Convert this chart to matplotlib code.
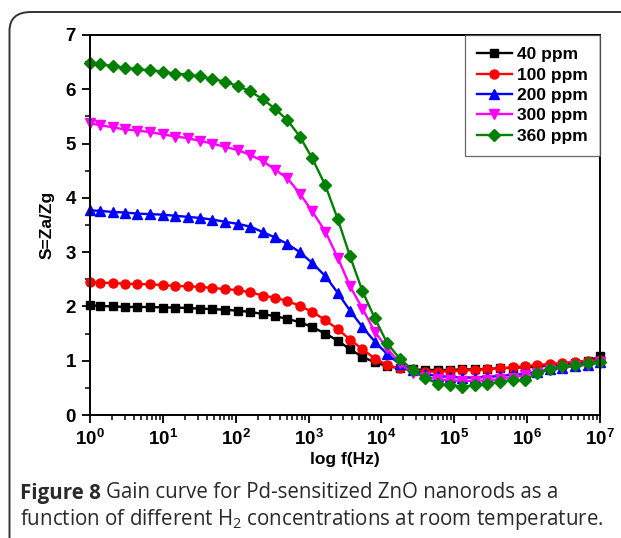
import matplotlib.pyplot as plt
import matplotlib.ticker as plticker
from matplotlib.patches import FancyBboxPatch

plt.rcParams['font.family'] = ['Liberation Sans', 'DejaVu Sans']
plt.rcParams['mathtext.default'] = 'regular'

# log10 of frequency for each measured point
log_f = [0.00, 0.14, 0.31, 0.48, 0.65, 0.83, 1.00, 1.17, 1.34, 1.51,
         1.68, 1.85, 2.03, 2.20, 2.37, 2.54, 2.71, 2.88, 3.05, 3.23,
         3.40, 3.57, 3.74, 3.91, 4.08, 4.25, 4.43, 4.60, 4.77, 4.94,
         5.11, 5.28, 5.45, 5.63, 5.80, 5.97, 6.14, 6.31, 6.48, 6.65,
         6.83, 7.00]
freq = [10 ** v for v in log_f]

s40 = [2.02, 2.01, 2.00, 1.99, 1.99, 1.99, 1.98, 1.98, 1.97, 1.96,
       1.95, 1.94, 1.92, 1.90, 1.86, 1.82, 1.77, 1.71, 1.62, 1.50,
       1.37, 1.21, 1.07, 0.97, 0.90, 0.86, 0.84, 0.83, 0.83, 0.83,
       0.84, 0.84, 0.85, 0.86, 0.87, 0.88, 0.89, 0.91, 0.93, 0.96,
       0.99, 1.08]
s100 = [2.45, 2.44, 2.43, 2.42, 2.41, 2.41, 2.39, 2.38, 2.37, 2.36,
        2.34, 2.32, 2.30, 2.26, 2.20, 2.16, 2.10, 2.01, 1.90, 1.75,
        1.58, 1.39, 1.21, 1.04, 0.92, 0.86, 0.82, 0.80, 0.80, 0.81,
        0.82, 0.83, 0.84, 0.86, 0.88, 0.90, 0.92, 0.94, 0.96, 0.98,
        1.00, 1.01]
s200 = [3.77, 3.76, 3.74, 3.73, 3.71, 3.70, 3.69, 3.67, 3.65, 3.63,
        3.60, 3.56, 3.52, 3.47, 3.37, 3.27, 3.15, 3.00, 2.80, 2.56,
        2.25, 1.92, 1.62, 1.35, 1.12, 0.94, 0.82, 0.75, 0.72, 0.70,
        0.69, 0.69, 0.70, 0.72, 0.74, 0.76, 0.80, 0.84, 0.87, 0.90,
        0.93, 0.97]
s300 = [5.37, 5.34, 5.30, 5.26, 5.24, 5.21, 5.17, 5.13, 5.10, 5.05,
        5.00, 4.94, 4.88, 4.79, 4.68, 4.52, 4.36, 4.08, 3.75, 3.38,
        2.90, 2.37, 1.96, 1.53, 1.23, 0.95, 0.78, 0.70, 0.66, 0.64,
        0.63, 0.63, 0.64, 0.66, 0.69, 0.73, 0.78, 0.83, 0.87, 0.90,
        0.93, 0.97]
s360 = [6.48, 6.46, 6.43, 6.40, 6.37, 6.35, 6.32, 6.29, 6.27, 6.24,
        6.19, 6.14, 6.06, 5.96, 5.82, 5.64, 5.43, 5.13, 4.73, 4.23,
        3.61, 2.92, 2.28, 1.78, 1.32, 1.04, 0.83, 0.68, 0.58, 0.55,
        0.52, 0.55, 0.58, 0.61, 0.64, 0.65, 0.77, 0.84, 0.90, 0.92,
        0.96, 0.98]

labels = ["40 ppm", "100 ppm", "200 ppm", "300 ppm", "360 ppm"]
series = [s40, s100, s200, s300, s360]
colors = ["black", "red", "blue", "magenta", "green"]
markers = ["s", "o", "^", "v", "D"]
msizes = [6, 6.5, 7, 7, 6]

fig = plt.figure(figsize=(6.21, 5.38), dpi=100)

# rounded frame around figure + caption
frame = FancyBboxPatch((9.5 / 621, -40 / 538), 700 / 621, (538 - 12 + 40) / 538,
                       boxstyle="round,pad=0,rounding_size=0.035",
                       transform=fig.transFigure, fill=False,
                       edgecolor="#333333", linewidth=1.4)
fig.patches.append(frame)

ax = fig.add_axes([90 / 621, (538 - 415) / 538, 510 / 621, 380 / 538])

for s, lab, c, m, ms in zip(series, labels, colors, markers, msizes):
    ax.plot(freq, s, color=c, marker=m, markersize=ms, linewidth=1.7,
            label=lab, clip_on=False)

ax.set_xscale("log")
ax.set_xlim(1, 1e7)
ax.set_ylim(0, 7)
ax.set_xticks([10 ** k for k in range(8)])
ax.xaxis.set_minor_locator(plticker.LogLocator(base=10, subs=range(2, 10), numticks=20))
ax.xaxis.set_minor_formatter(plticker.NullFormatter())
ax.yaxis.set_major_locator(plticker.MultipleLocator(1))
ax.yaxis.set_minor_locator(plticker.MultipleLocator(0.5))

ax.tick_params(which="major", direction="out", length=6, width=1.3,
               labelsize=13.5, pad=4)
ax.tick_params(which="minor", direction="out", length=3.5, width=1.1)
for lab in ax.get_xticklabels() + ax.get_yticklabels():
    lab.set_fontweight("bold")
for sp in ax.spines.values():
    sp.set_linewidth(1.4)

ax.set_xlabel("log f(Hz)", fontsize=12.5, fontweight="bold", labelpad=2)
ax.set_ylabel("S=Za/Zg", fontsize=12.5, fontweight="bold", labelpad=8)

leg = ax.legend(loc="upper right", fontsize=12.5, frameon=True, fancybox=False,
                borderaxespad=0, handlelength=2.0, handletextpad=0.3,
                labelspacing=0.3, borderpad=0.7)
leg.get_frame().set_edgecolor("#444444")
leg.get_frame().set_linewidth(0.9)
for t in leg.get_texts():
    t.set_fontweight("bold")

cap_font = ["Open Sans", "DejaVu Sans"]
cap_size = 14.8
y1 = 1 - 493 / 538
y2 = 1 - 520 / 538
t1 = fig.text(20 / 621, y1, "Figure 8", fontsize=cap_size, fontweight="bold",
              family=cap_font, color="#2a2a2a", va="center")
r = fig.canvas.get_renderer()
bb = t1.get_window_extent(renderer=r)
fig.text((bb.x1 + 5) / 621, y1,
         "Gain curve for Pd-sensitized ZnO nanorods as a",
         fontsize=cap_size, family=cap_font, color="#2a2a2a", va="center")
fig.text(20 / 621, y2,
         "function of different H$_2$ concentrations at room temperature.",
         fontsize=cap_size, family=cap_font, color="#2a2a2a", va="center")

fig.savefig("out.png", dpi=100)
